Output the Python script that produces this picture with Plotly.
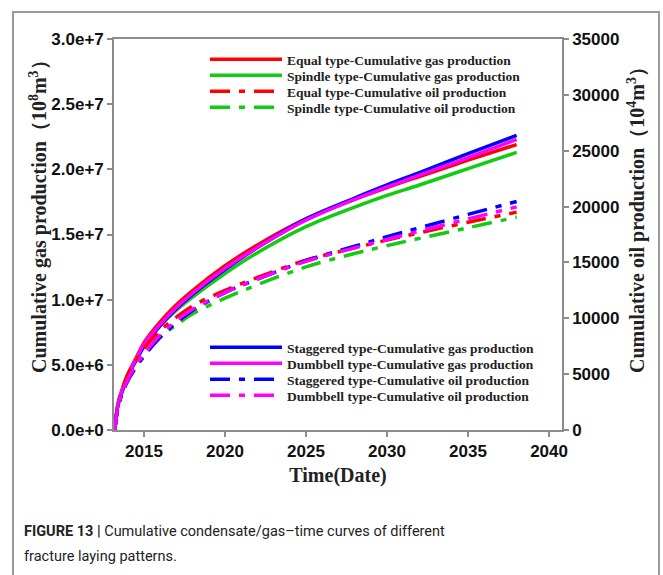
import plotly.graph_objects as go

years = [2013.2, 2013.4, 2013.7, 2014.0, 2014.5, 2015, 2016, 2017, 2018, 2020,
         2022, 2025, 2028, 2030, 2032, 2035, 2038]

# Cumulative gas production (units of 1e7, scaled below)
gas_equal     = [0, 0.20, 0.33, 0.43, 0.55, 0.67, 0.83, 0.96, 1.07, 1.26, 1.42, 1.62, 1.77, 1.86, 1.945, 2.07, 2.19]
gas_spindle   = [0, 0.20, 0.32, 0.42, 0.54, 0.65, 0.80, 0.92, 1.02, 1.20, 1.36, 1.56, 1.71, 1.80, 1.88, 2.005, 2.13]
gas_staggered = [0, 0.19, 0.31, 0.41, 0.53, 0.64, 0.80, 0.93, 1.04, 1.23, 1.40, 1.62, 1.78, 1.88, 1.975, 2.12, 2.26]
gas_dumbbell  = [0, 0.20, 0.32, 0.42, 0.54, 0.66, 0.81, 0.94, 1.05, 1.24, 1.40, 1.61, 1.77, 1.865, 1.955, 2.09, 2.23]

# Cumulative oil production (thousands, right axis)
oil_equal     = [0, 2.3, 3.8, 4.9, 6.2, 7.3, 8.9, 10.1, 11.1, 12.5, 13.65, 15.2, 16.3, 17.0, 17.65, 18.6, 19.5]
oil_spindle   = [0, 2.1, 3.5, 4.5, 5.7, 6.7, 8.3, 9.4, 10.4, 11.8, 13.0, 14.6, 15.8, 16.5, 17.15, 18.1, 19.06]
oil_staggered = [0, 2.0, 3.4, 4.4, 5.6, 6.6, 8.3, 9.6, 10.7, 12.3, 13.5, 15.15, 16.45, 17.3, 18.1, 19.3, 20.45]
oil_dumbbell  = [0, 2.1, 3.5, 4.5, 5.8, 6.8, 8.5, 9.8, 10.8, 12.3, 13.5, 15.1, 16.3, 17.05, 17.8, 18.9, 19.97]

x_ticks = [2015, 2020, 2025, 2030, 2035, 2040]
y1_ticks = [0, 5e6, 1e7, 1.5e7, 2e7, 2.5e7, 3e7]
y2_ticks = [0, 5000, 10000, 15000, 20000, 25000, 30000, 35000]

RED, GREEN, BLUE, MAG = "#ff0000", "#11cc11", "#0000ff", "#ff00ff"
DASH = "20px,9px,6px,9px"
LW = 3.5

series = [
    (gas_equal, "Equal type-Cumulative gas production", RED, "gas"),
    (gas_spindle, "Spindle type-Cumulative gas production", GREEN, "gas"),
    (oil_equal, "Equal type-Cumulative oil production", RED, "oil"),
    (oil_spindle, "Spindle type-Cumulative oil production", GREEN, "oil"),
    (gas_staggered, "Staggered type-Cumulative gas production", BLUE, "gas"),
    (gas_dumbbell, "Dumbbell type-Cumulative gas production", MAG, "gas"),
    (oil_staggered, "Staggered type-Cumulative oil production", BLUE, "oil"),
    (oil_dumbbell, "Dumbbell type-Cumulative oil production", MAG, "oil"),
]

fig = go.Figure()
for i, (vals, name, color, kind) in enumerate(series):
    lg = "legend" if i == 0 else f"legend{i + 1}"
    if kind == "gas":
        fig.add_trace(go.Scatter(x=years, y=[v * 1e7 for v in vals], name=name, mode="lines",
                                 line=dict(color=color, width=LW, shape="spline"),
                                 legend=lg, yaxis="y"))
    else:
        fig.add_trace(go.Scatter(x=years, y=[v * 1000 for v in vals], name=name, mode="lines",
                                 line=dict(color=color, width=LW, dash=DASH, shape="spline"),
                                 legend=lg, yaxis="y2"))

AX = "#8c8c8c"
tickfont = dict(family="Liberation Sans, Arial", size=17, color="#111", weight="bold")
titlefont = dict(family="Liberation Serif, Times New Roman", size=20, color="#222", weight="bold")
legfont = dict(family="Liberation Serif, Times New Roman", size=13.5, color="#222", weight="bold")

L, R, T, B = 114, 101, 39, 145
W, H = 663, 575
pw, ph = W - L - R, H - T - B

def px_x(x):
    return (x - L) / pw

def px_y(y):
    return (H - B - y) / ph

legend_centers = [61, 77, 93, 109, 349, 365, 381, 397]
legends = {}
for i, cy in enumerate(legend_centers):
    key = "legend" if i == 0 else f"legend{i + 1}"
    legends[key] = dict(x=px_x(205), y=px_y(cy - 17), xanchor="left", yanchor="top",
                        bgcolor="rgba(0,0,0,0)", borderwidth=0, font=legfont,
                        itemwidth=72, tracegroupgap=0)

cap_font = dict(family="Roboto, Liberation Sans", size=14.5, color="#222")

fig.update_layout(
    width=W, height=H,
    margin=dict(l=L, r=R, t=T, b=B),
    paper_bgcolor="white", plot_bgcolor="white",
    showlegend=True,
    xaxis=dict(range=[2013.15, 2040.8], tickvals=x_ticks,
               showline=True, linecolor=AX, linewidth=1.5, mirror=True,
               ticks="outside", ticklen=5, tickcolor=AX, tickwidth=1.5,
               showgrid=False, zeroline=False, tickfont=tickfont,
               title=dict(text="Time(Date)", font=titlefont, standoff=8)),
    yaxis=dict(range=[0, 3e7], tickvals=y1_ticks, tickformat=".1e",
               showline=True, linecolor=AX, linewidth=1.5,
               ticks="outside", ticklen=5, tickcolor=AX, tickwidth=1.5,
               showgrid=False, zeroline=False, tickfont=tickfont),
    yaxis2=dict(range=[0, 35000], tickvals=y2_ticks, tickformat="d",
                overlaying="y", side="right",
                showline=True, linecolor=AX, linewidth=1.5,
                ticks="outside", ticklen=5, tickcolor=AX, tickwidth=1.5,
                showgrid=False, zeroline=False, tickfont=tickfont),
    shapes=[dict(type="rect", xref="paper", yref="paper",
                 x0=px_x(13), x1=px_x(659), y0=px_y(590), y1=px_y(12),
                 line=dict(color="#9a9a9a", width=2), fillcolor="rgba(0,0,0,0)", layer="below")],
    annotations=[
        dict(xref="paper", yref="paper", x=px_x(39), y=px_y(212), xanchor="center", yanchor="middle",
             showarrow=False, textangle=-90,
             text="Cumulative gas production（10<sup>8</sup>m<sup>3</sup>）", font=titlefont),
        dict(xref="paper", yref="paper", x=px_x(636), y=px_y(215), xanchor="center", yanchor="middle",
             showarrow=False, textangle=-90,
             text="Cumulative oil production（10<sup>4</sup>m<sup>3</sup>）", font=titlefont),
        dict(xref="paper", yref="paper", x=px_x(22), y=px_y(531), xanchor="left", yanchor="middle",
             showarrow=False, align="left",
             text="<b>FIGURE 13 |</b> Cumulative condensate/gas–time curves of different",
             font=cap_font),
        dict(xref="paper", yref="paper", x=px_x(22), y=px_y(556), xanchor="left", yanchor="middle",
             showarrow=False, align="left",
             text="fracture laying patterns.",
             font=cap_font),
    ],
    **legends,
)

fig.write_html("out.html")
